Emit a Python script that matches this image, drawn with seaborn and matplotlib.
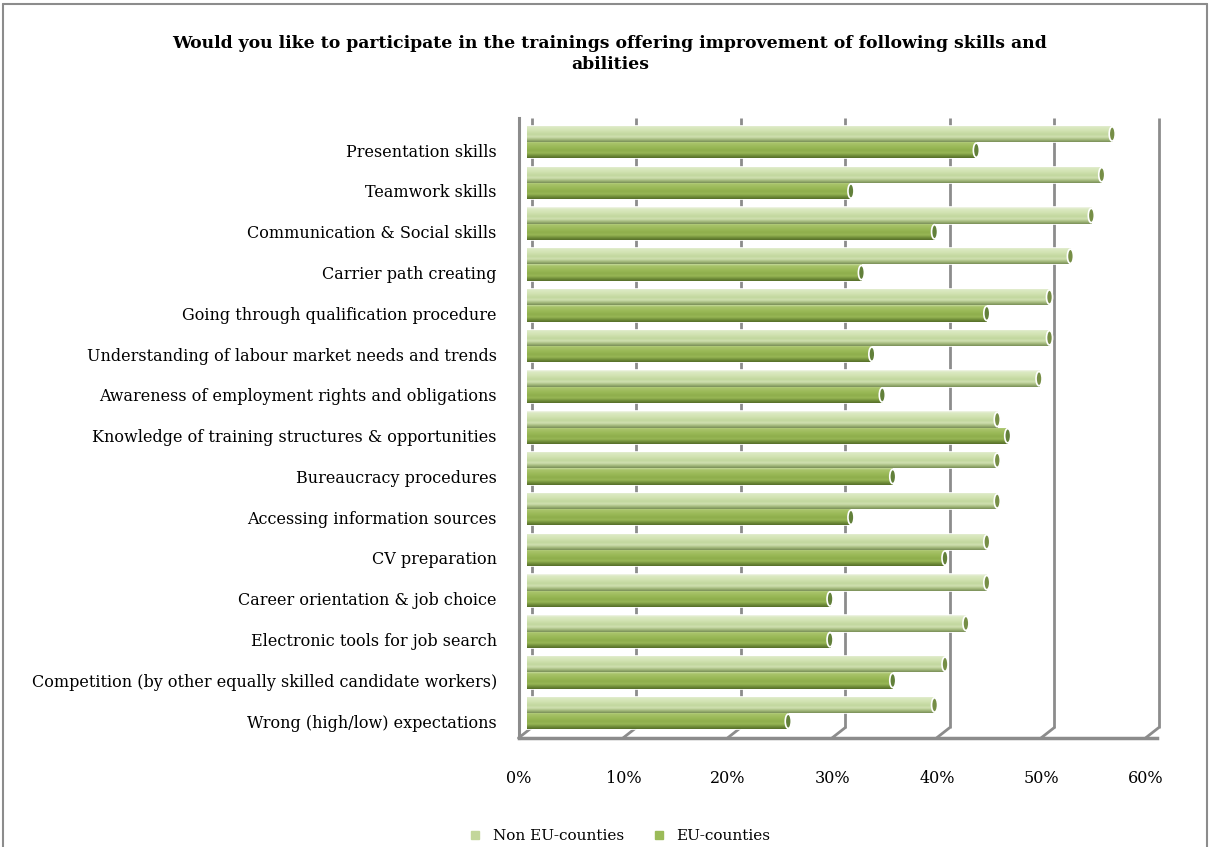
import numpy as np
import pandas as pd
import matplotlib
matplotlib.use("Agg")
import matplotlib.pyplot as plt
import seaborn as sns
from matplotlib.lines import Line2D
from matplotlib.patches import Ellipse
from matplotlib.transforms import ScaledTranslation
import matplotlib.colors as mcolors

# ---------------- data ----------------
categories = [
    "Presentation skills",
    "Teamwork skills",
    "Communication & Social skills",
    "Carrier path creating",
    "Going through qualification procedure",
    "Understanding of labour market needs and trends",
    "Awareness of employment rights and obligations",
    "Knowledge of training structures & opportunities",
    "Bureaucracy procedures",
    "Accessing information sources",
    "CV preparation",
    "Career orientation & job choice",
    "Electronic tools for job search",
    "Competition (by other equally skilled candidate workers)",
    "Wrong (high/low) expectations",
]
non_eu = [56, 55, 54, 52, 50, 50, 49, 45, 45, 45, 44, 44, 42, 40, 39]
eu = [43, 31, 39, 32, 44, 33, 34, 46, 35, 31, 40, 29, 29, 35, 25]
series_names = ["Non EU-counties", "EU-counties"]
tick_values = [0, 10, 20, 30, 40, 50, 60]
tick_labels = [f"{v}%" for v in tick_values]
title = ("Would you like to participate in the trainings offering improvement of following skills and\n"
         "abilities")

# ---------------- style ----------------
sns.set_theme(style="white")
plt.rcParams['font.family'] = ['DejaVu Serif']
plt.rcParams['text.color'] = 'black'

c_non = "#c3d69b"
c_eu = "#9bbb59"
grid_c = "#8c8c8c"

df = pd.DataFrame({
    "Skill": categories * 2,
    "Value": non_eu + eu,
    "Series": [series_names[0]] * len(categories) + [series_names[1]] * len(categories),
})

W, H = 1210, 847
fig = plt.figure(figsize=(W / 100, H / 100), dpi=100)
ax = fig.add_axes([519 / W, 1 - 738 / H, (1157 - 519) / W, (738 - 118) / H])

sns.barplot(data=df, y="Skill", x="Value", hue="Series", orient="h",
            palette=[c_non, c_eu], width=0.8, saturation=1, ax=ax,
            legend=False, edgecolor="white", linewidth=1.2, zorder=3)

px = 10.45  # pixels per data unit (percent)
xlo, xhi = -8 / px, (1157 - 527) / px
ylo, yhi = 14.61, -0.59
floor_back = 14.36
back_dx = 4.5 / px
front_dx = -8.5 / px

# cylinder-like gradients on each bar
def grad(stops):
    cmap = mcolors.LinearSegmentedColormap.from_list("g", stops)
    return cmap(np.linspace(0, 1, 64)).reshape(64, 1, 4)

g_non = grad([(0, "#f2f6ea"), (0.1, "#dbe9c3"), (0.3, "#d3e4b4"),
              (0.55, "#c2d79e"), (0.7, "#cfe0b0"), (0.85, "#a6bc7f"), (1, "#7b8f58")])
g_eu = grad([(0, "#c4d89a"), (0.1, "#a9c46b"), (0.35, "#9ab957"),
             (0.55, "#8eae4c"), (0.7, "#98b656"), (0.87, "#6f8c38"), (1, "#566e2a")])
nonrgb = np.array(mcolors.to_rgb(c_non))
for p in list(ax.patches):
    x, y, w, h = p.get_x(), p.get_y(), p.get_width(), p.get_height()
    fc = np.array(p.get_facecolor()[:3])
    is_non = np.allclose(fc, nonrgb, atol=0.02)
    im = ax.imshow(g_non if is_non else g_eu, extent=[x, x + w, y + h, y],
                   aspect="auto", zorder=3.5, interpolation="bilinear")
    im.set_clip_path(p)
    cap = Ellipse((x + w, y + h / 2), width=6 / px, height=h * 0.88,
                  facecolor="#768e46" if is_non else "#62803a",
                  edgecolor="white", linewidth=1.2, zorder=4)
    ax.add_patch(cap)

# back wall gridlines + right wall
for v in tick_values:
    ax.plot([v + back_dx, v + back_dx], [yhi, floor_back], color=grid_c, lw=2,
            zorder=1, clip_on=False, solid_capstyle="butt")
# floor diagonal ticks
for v in tick_values:
    ax.plot([v + back_dx, v + front_dx], [floor_back, ylo], color=grid_c, lw=2,
            zorder=1, clip_on=False)

ax.set_xlim(xlo, xhi)
ax.set_ylim(ylo, yhi)
ax.set_xticks(tick_values)
ax.set_xticklabels(tick_labels)
ax.set_xlabel("")
ax.set_ylabel("")

for s in ["top", "right"]:
    ax.spines[s].set_visible(False)
ax.spines["left"].set_color(grid_c)
ax.spines["left"].set_linewidth(2.2)
ax.spines["bottom"].set_color(grid_c)
ax.spines["bottom"].set_linewidth(2.5)

ax.tick_params(axis="x", length=0, pad=23, labelsize=11.5, colors="black")
ax.tick_params(axis="y", length=0, pad=16, labelsize=11.5, colors="black")
for lbl in ax.get_xticklabels():
    lbl.set_transform(lbl.get_transform() + ScaledTranslation(-8 / 100, 0, fig.dpi_scale_trans))
for lbl in ax.get_yticklabels():
    lbl.set_transform(lbl.get_transform() + ScaledTranslation(0, -8 / 100, fig.dpi_scale_trans))

fig.text(610 / W, 1 - 35 / H, title, ha="center", va="top", fontsize=12.4,
         fontweight="bold", linespacing=1.3, color="black")

handles = [Line2D([], [], marker="s", linestyle="", markersize=6, color=c, markeredgecolor=c)
           for c in [c_non, c_eu]]
fig.legend(handles, series_names, loc="center", bbox_to_anchor=(615 / W, 1 - 836 / H),
           ncol=2, frameon=False, fontsize=11, handletextpad=0.15, columnspacing=1.3,
           labelcolor="black")

# outer chart border
for xs, ys in [([3, 3], [0, 843]), ([3, 1207], [843, 843]), ([1207, 1207], [843, 0])]:
    fig.add_artist(Line2D([x / W for x in xs], [y / H for y in ys], color="#8c8c8c",
                          lw=1.5, transform=fig.transFigure))

fig.savefig("out.png", dpi=100)
